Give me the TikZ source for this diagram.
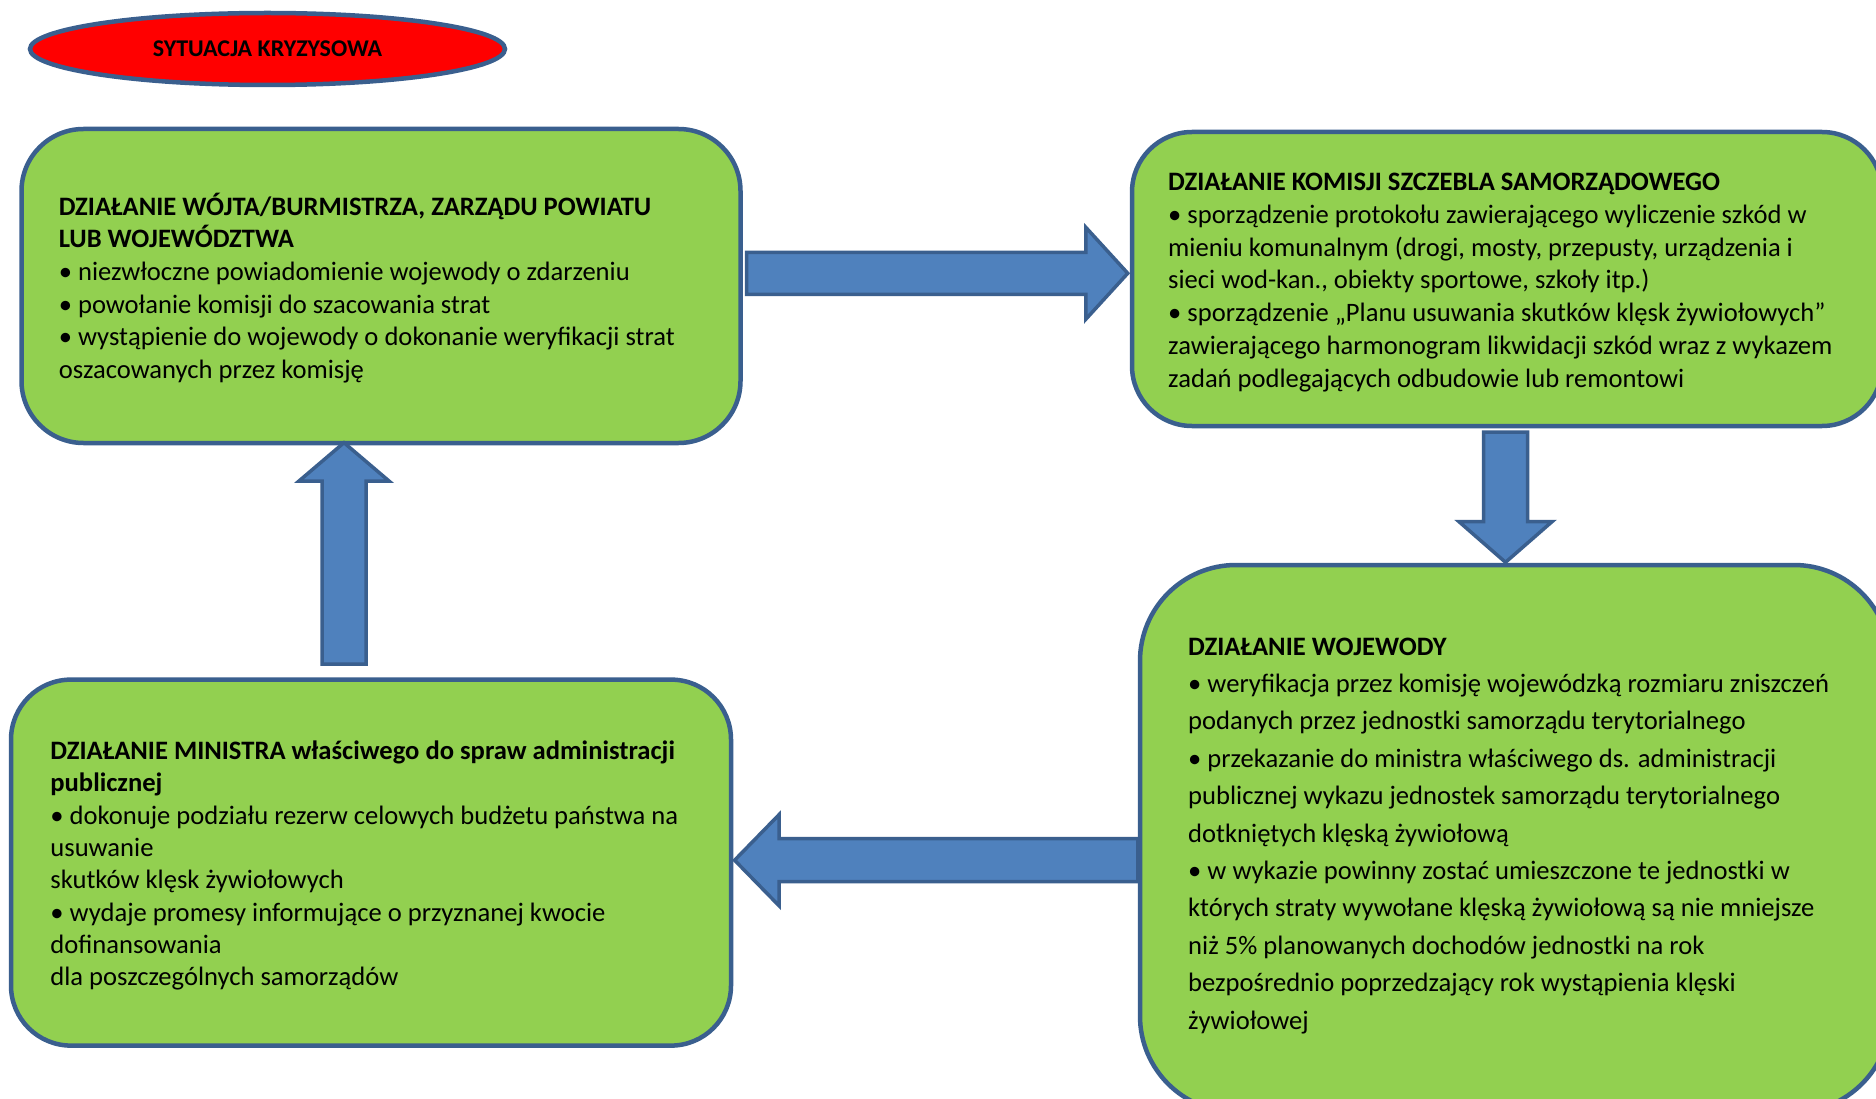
\documentclass[tikz,border=0pt]{standalone}
\usepackage{fontspec}
\setmainfont{Carlito}
\usetikzlibrary{shapes.geometric,calc}
\definecolor{boxgreen}{HTML}{92D050}
\definecolor{edgeblue}{HTML}{3A5F8E}
\definecolor{arrowblue}{HTML}{4F81BD}
\definecolor{ellred}{HTML}{FF0000}
\tikzset{
  greenbox/.style={draw=edgeblue, line width=4.5pt, fill=boxgreen, rectangle, inner sep=0pt},
  boxtext/.style={anchor=west, align=left, inner sep=0pt, font=\fontsize{26.6}{32.7}\selectfont},
  blockarrow/.style={draw=edgeblue, line width=3.5pt, fill=arrowblue, line join=miter},
}
% #1 start, #2 tip, #3 shaft half width, #4 head half width, #5 head length
\newcommand{\bArrow}[5]{%
  \coordinate (#1-h) at ($(#2)!#5!(#1)$);
  \path[blockarrow] ($(#1)!#3!90:(#2)$) -- ($(#1-h)!#3!90:(#2)$) -- ($(#1-h)!#4!90:(#2)$) -- (#2)
     -- ($(#1-h)!#4!-90:(#2)$) -- ($(#1-h)!#3!-90:(#2)$) -- ($(#1)!#3!-90:(#2)$) -- cycle;
}
\begin{document}
\begin{tikzpicture}[x=1pt,y=-1pt]
\useasboundingbox (0,0) rectangle (1876,1099);
\clip (0,0) rectangle (1876,1099);
\fill[white] (0,0) rectangle (1876,1099);

% ellipse
\node[ellipse, draw=edgeblue, line width=4.5pt, fill=ellred, minimum width=475pt, minimum height=72pt, inner sep=0pt,
      font=\fontsize{24}{28}\selectfont\bfseries] (kryzys) at (267.5,49) {SYTUACJA KRYZYSOWA};

% boxes
\node[greenbox, rounded corners=62pt, minimum width=719pt, minimum height=314pt] (b1) at (381,286) {};
\node[greenbox, rounded corners=60pt, minimum width=750pt, minimum height=294pt] (b2) at (1507,279) {};
\node[greenbox, rounded corners=96pt, minimum width=750pt, minimum height=547pt] (b3) at (1515,838.5) {};
\node[greenbox, rounded corners=60pt, minimum width=720pt, minimum height=366pt] (b4) at (371,862.6) {};

% arrow coordinates
\coordinate (r-s) at (746.5,273.3);
\coordinate (r-t) at ([xshift=-2pt]b2.west |- 0,273.3);
\coordinate (d-s) at (1505.5,432);
\coordinate (d-t) at (1505.5,562.3);
\coordinate (l-s) at (b3.west |- 0,860.2);
\coordinate (l-t) at (734.6,860.2);
\coordinate (u-s) at (344,664);
\coordinate (u-t) at (344,442.7);

\bArrow{r-s}{r-t}{21pt}{46pt}{42pt}
\bArrow{d-s}{d-t}{22pt}{46.6pt}{40.7pt}
\bArrow{l-s}{l-t}{21.5pt}{45.5pt}{44.4pt}
\bArrow{u-s}{u-t}{22pt}{45pt}{38.3pt}

% texts
\node[boxtext] (t1) at (58.6,288) {\textbf{DZIAŁANIE WÓJTA/BURMISTRZA, ZARZĄDU POWIATU}\\
\textbf{LUB WOJEWÓDZTWA}\\
• niezwłoczne powiadomienie wojewody o zdarzeniu\\
• powołanie komisji do szacowania strat\\
• wystąpienie do wojewody o dokonanie weryfikacji strat\\
oszacowanych przez komisję};

\node[boxtext] (t2) at (1168,282.5) {\textbf{DZIAŁANIE KOMISJI SZCZEBLA SAMORZĄDOWEGO}\\
• sporządzenie protokołu zawierającego wyliczenie szkód w\\
mieniu komunalnym (drogi, mosty, przepusty, urządzenia i\\
sieci wod-kan., obiekty sportowe, szkoły itp.)\\
• sporządzenie „Planu usuwania skutków klęsk żywiołowych”\\
zawierającego harmonogram likwidacji szkód wraz z wykazem\\
zadań podlegających odbudowie lub remontowi};

\node[boxtext, font=\fontsize{26.6}{37.4}\selectfont] (t3) at (1188,835.6) {\textbf{DZIAŁANIE WOJEWODY}\\
• weryfikacja przez komisję wojewódzką rozmiaru zniszczeń\\
podanych przez jednostki samorządu terytorialnego\\
• przekazanie do ministra właściwego ds. administracji\\
publicznej wykazu jednostek samorządu terytorialnego\\
dotkniętych klęską żywiołową\\
• w wykazie powinny zostać umieszczone te jednostki w\\
których straty wywołane klęską żywiołową są nie mniejsze\\
niż 5\% planowanych dochodów jednostki na rok\\
bezpośrednio poprzedzający rok wystąpienia klęski\\
żywiołowej};

\node[boxtext, font=\fontsize{26.6}{32.3}\selectfont] (t4) at (50.2,865.6) {\textbf{DZIAŁANIE MINISTRA właściwego do spraw administracji}\\
\textbf{publicznej}\\
• dokonuje podziału rezerw celowych budżetu państwa na\\
usuwanie\\
skutków klęsk żywiołowych\\
• wydaje promesy informujące o przyznanej kwocie\\
dofinansowania\\
dla poszczególnych samorządów};
\end{tikzpicture}
\end{document}
